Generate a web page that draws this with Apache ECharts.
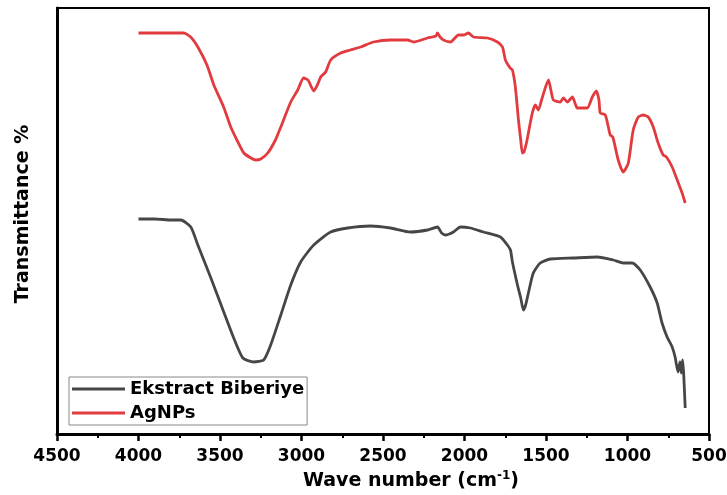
<!DOCTYPE html>
<html>
<head>
<meta charset="utf-8">
<script src="https://cdn.jsdelivr.net/npm/echarts@6/dist/echarts.min.js"></script>
<style>html,body{margin:0;padding:0;background:#fff}#c{width:727px;height:495px}</style>
</head>
<body>
<div id="c"></div>
<script>
// Wavenumbers (cm-1) and transmittance (arbitrary units, offset traces)
const agWave = [4000,3900,3800,3722,3680,3636,3580,3538,3480,3434,3390,3354,3310,3281,3250,3207,3160,3127,3066,3023,2987,2960,2925,2900,2882,2852,2821,2760,2700,2637,2558,2454,2349,2312,2227,2175,2166,2150,2129,2086,2037,2006,1976,1945,1859,1798,1767,1749,1720,1706,1688,1669,1655,1645,1635,1620,1608,1584,1565,1547,1522,1485,1470,1455,1412,1394,1369,1338,1320,1308,1247,1216,1191,1175,1167,1136,1106,1090,1057,1026,995,965,934,904,873,842,812,781,761,726,695,665,646];
const agT = [401,401,401,401,397,387,369,349,328,307,292,281,276,274,275,281,294,307,332,344,356,354,343,350,357,362,374,381,384,387,392,394,394,392,396,398,401,397,394,392,399,399,401,397,396,392,387,374,366,364,347,314,294,281,282,291,301,321,329,324,337,354,344,334,332,336,332,337,330,326,326,337,343,334,321,319,299,297,274,262,271,304,317,319,317,307,291,279,277,267,254,241,231];
const exWave = [4000,3900,3800,3740,3679,3636,3556,3477,3416,3360,3293,3232,3189,3127,3066,3005,2925,2821,2717,2576,2454,2331,2227,2166,2140,2117,2068,2025,1964,1884,1780,1737,1718,1706,1675,1655,1639,1625,1608,1578,1535,1473,1332,1185,1087,1026,971,922,861,818,788,757,726,708,690,678,670,662,655,646];
const exT = [215,215,214,214,207,189,156,122,96,76,72,74,89,119,149,172,189,202,206,208,206,202,204,207,201,199,202,207,206,202,197,189,184,172,149,136,124,129,141,161,171,175,176,177,174,171,171,164,147,131,111,97,87,77,62,72,61,74,59,26];
const seriesNames = ['Ekstract Biberiye','AgNPs'];
const xTicks = [4500,4000,3500,3000,2500,2000,1500,1000,500];

const zip = (a,b) => a.map((v,i) => [v,b[i]]);
const F = 'DejaVu Sans';
const chart = echarts.init(document.getElementById('c'));
chart.setOption({
  animation: false,
  backgroundColor: '#fff',
  grid: {left: 57, right: 18, top: 8, bottom: 61, show: true, borderColor: '#000', borderWidth: 2,
    containLabel: false, outerBoundsMode: 'none'},
  legend: {
    orient: 'vertical', left: 69, top: 377,
    data: seriesNames,
    icon: 'rect', itemWidth: 53, itemHeight: 3, itemGap: 6,
    borderColor: '#888', borderWidth: 1, borderRadius: 0,
    padding: [3, 3, 3, 3],
    textStyle: {fontFamily: F, fontWeight: 'bold', fontSize: 18, color: '#000', lineHeight: 18}
  },
  xAxis: {
    type: 'value', min: 500, max: 4500, interval: 500, inverse: true,
    name: '{t|Wave number (cm}{s|-1}{t|)}',
    nameLocation: 'middle', nameGap: 36,
    nameTextStyle: {padding: [0,0,0,56], rich: {
      t: {fontFamily: F, fontWeight: 'bold', fontSize: 19, color: '#000'},
      s: {fontFamily: F, fontWeight: 'bold', fontSize: 12, color: '#000', padding: [0,0,10,0]}
    }},
    axisLine: {show: true, lineStyle: {color: '#000', width: 3}},
    axisTick: {show: true, inside: false, length: 7, lineStyle: {color: '#000', width: 2.5}},
    minorTick: {show: true, splitNumber: 2, length: 4, lineStyle: {color: '#000', width: 2}},
    axisLabel: {fontFamily: F, fontWeight: 'bold', fontSize: 17, color: '#000', margin: 14,
      formatter: v => xTicks.includes(v) ? String(v) : ''},
    splitLine: {show: false}
  },
  yAxis: {
    type: 'value', min: 0, max: 426,
    name: 'Transmittance %', nameLocation: 'middle', nameGap: 24,
    nameTextStyle: {fontFamily: F, fontWeight: 'bold', fontSize: 19, color: '#000', padding: [0,0,0,14]},
    axisLine: {show: true, lineStyle: {color: '#000', width: 3}},
    axisTick: {show: false}, axisLabel: {show: false}, splitLine: {show: false}
  },
  series: [
    {name: seriesNames[0], type: 'line', data: zip(exWave, exT), showSymbol: false, symbol: 'none', smooth: 0.2,
      lineStyle: {color: '#464646', width: 2.8}, itemStyle: {color: '#464646'}},
    {name: seriesNames[1], type: 'line', data: zip(agWave, agT), showSymbol: false, symbol: 'none', smooth: 0.2,
      lineStyle: {color: '#e23b3f', width: 2.8}, itemStyle: {color: '#e23b3f'}}
  ]
});
</script>
</body>
</html>
